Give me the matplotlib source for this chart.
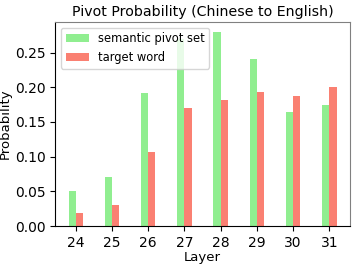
import numpy as np
import matplotlib
matplotlib.use('Agg')
import matplotlib.pyplot as plt

layers = [24, 25, 26, 27, 28, 29, 30, 31]
pivot_set = [0.051, 0.071, 0.191, 0.270, 0.280, 0.240, 0.165, 0.175]
target_word = [0.019, 0.031, 0.107, 0.170, 0.182, 0.193, 0.187, 0.201]

x = np.array(layers)
width = 0.2

fig, ax = plt.subplots(figsize=(3.56, 2.65), dpi=100)
ax.bar(x - width / 2, pivot_set, width, color='lightgreen', label='semantic pivot set')
ax.bar(x + width / 2, target_word, width, color='salmon', label='target word')

ax.set_xticks(x)
ax.tick_params(labelsize=10)
ax.set_xlabel('Layer', fontsize=9.5, labelpad=1)
ax.set_ylabel('Probability', fontsize=9.5, labelpad=2)
ax.set_title('Pivot Probability (Chinese to English)', fontsize=10.2, pad=4)
ax.legend(loc='upper left', fontsize=8.3)

for side in ['top', 'right']:
    ax.spines[side].set_color('gray')

plt.subplots_adjust(left=0.155, right=0.983, top=0.917, bottom=0.147)
plt.savefig('out.png')
